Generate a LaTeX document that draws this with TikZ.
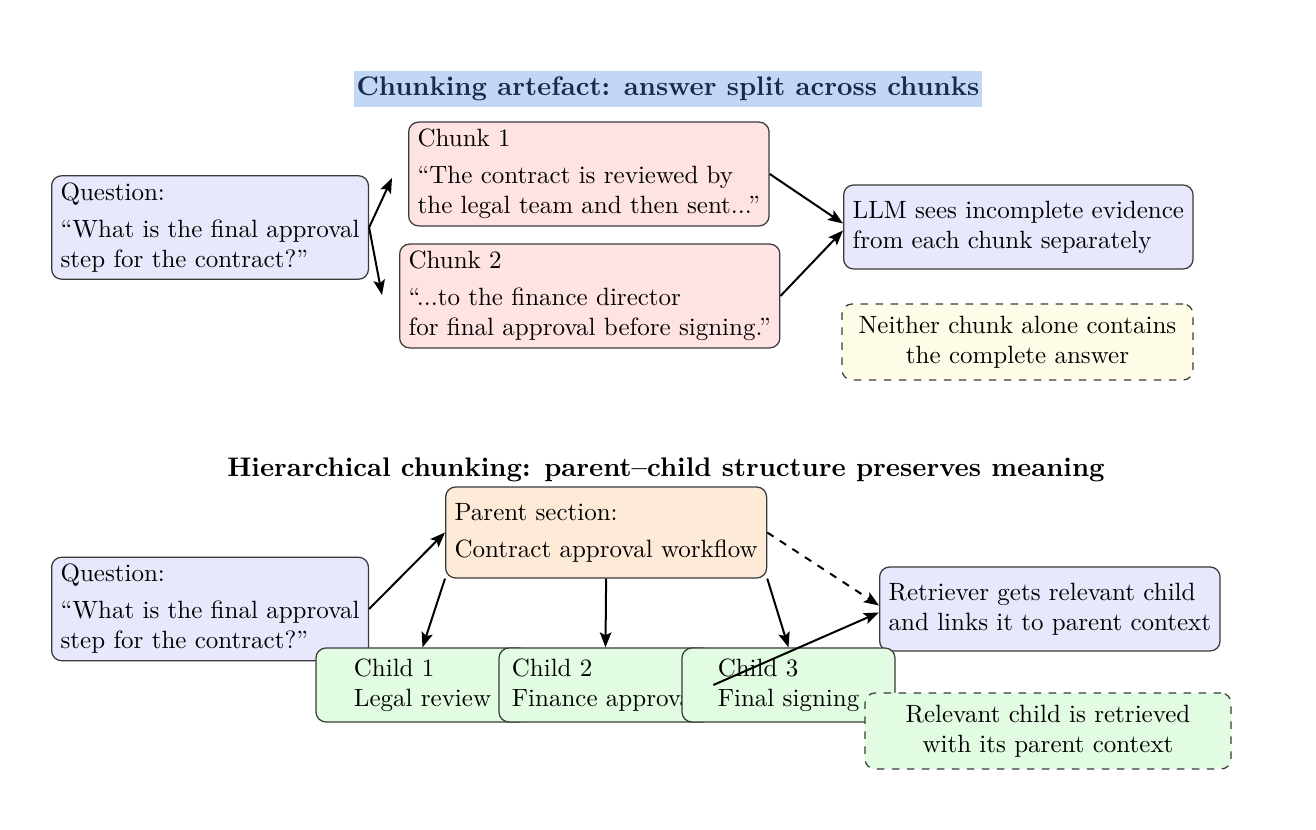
\documentclass[tikz,border=0pt]{standalone}
\usetikzlibrary{arrows.meta,calc}
\definecolor{qfill}{HTML}{E8E8FC}
\definecolor{chfill}{HTML}{FFE3E3}
\definecolor{pfill}{HTML}{FDEBD8}
\definecolor{cfill}{HTML}{E2FCE2}
\definecolor{nfill}{HTML}{FEFBE6}
\definecolor{tfill}{HTML}{C2D7F5}
\definecolor{tnavy}{HTML}{1B2A4A}
\definecolor{bordergray}{HTML}{3A3A3A}
\tikzset{
  box/.style={draw=bordergray, line width=0.5pt, rounded corners=4pt, align=left,
    inner xsep=3.6pt, inner ysep=2.8pt, anchor=west},
  qbox/.style={box, fill=qfill},
  chbox/.style={box, fill=chfill},
  pbox/.style={box, fill=pfill},
  childbox/.style={box, fill=cfill, anchor=center, minimum width=85.2pt, minimum height=29.6pt},
  notebox/.style={box, dashed, anchor=center, align=center, minimum height=30.4pt},
  arr/.style={-{Stealth[length=6pt,width=4.6pt,inset=1.2pt]}, line width=0.8pt},
  ttl/.style={font=\fontsize{10.75}{13}\selectfont\bfseries, inner sep=0pt}
}
\begin{document}
\begin{tikzpicture}[x=0.4pt,y=-0.4pt]
\useasboundingbox (0,0) rectangle (1316,830);
% titles
\node[ttl, fill=tfill, text=tnavy, inner xsep=1pt, inner ysep=2.4pt] (t1) at (668,89) {Chunking artefact: answer split across chunks};
\node[ttl] (t2) at (666,470) {Hierarchical chunking: parent--child structure preserves meaning};
% top
\node[qbox] (q1) at (51,227.5) {Question:\\[2.8pt]“What is the final approval\\step for the contract?”};
\node[chbox] (c1) at (408,174) {Chunk 1\\[2.8pt]“The contract is reviewed by\\the legal team and then sent...”};
\node[chbox] (c2) at (399,296) {Chunk 2\\[2.8pt]“...to the finance director\\for final approval before signing.”};
\node[qbox, minimum height=33.6pt] (llm) at (843,227) {LLM sees incomplete evidence\\from each chunk separately};
\node[notebox, fill=nfill, minimum width=140.4pt] (n1) at (1017.5,342) {Neither chunk alone contains\\the complete answer};
\draw[arr] (q1.east) -- ([xshift=-6.4pt,yshift=-1.6pt]c1.west);
\draw[arr] (q1.east) -- ([xshift=-6.8pt,yshift=0.4pt]c2.west);
\draw[arr] (c1.east) -- ([yshift=1.4pt]llm.west);
\draw[arr] (c2.east) -- ([yshift=-1.4pt]llm.west);
% bottom
\node[qbox] (q2) at (51,609) {Question:\\[2.8pt]“What is the final approval\\step for the contract?”};
\node[pbox, minimum height=36.4pt] (par) at (445,532.5) {Parent section:\\[2.8pt]Contract approval workflow};
\node[qbox, minimum height=33.6pt] (ret) at (879,609) {Retriever gets relevant child\\and links it to parent context};
\node[childbox] (k1) at (422.5,685) {Child 1\\Legal review};
\node[childbox] (k2) at (605.5,685) {Child 2\\Finance approval};
\node[childbox] (k3) at (788.5,685) {Child 3\\Final signing};
\node[notebox, fill=cfill, minimum width=146.4pt] (n2) at (1048,731) {Relevant child is retrieved\\with its parent context};
\draw[arr] (q2.east) -- (par.west);
\draw[arr] (par.south west) -- (k1.north);
\draw[arr] (par.south) -- (k2.north);
\draw[arr] (par.south east) -- (k3.north);
\draw[arr, dashed] (par.east) -- ([yshift=1.4pt]ret.west);
\draw[arr] ([xshift=12.8pt]k3.west) -- ([yshift=-1.4pt]ret.west);
\end{tikzpicture}
\end{document}
